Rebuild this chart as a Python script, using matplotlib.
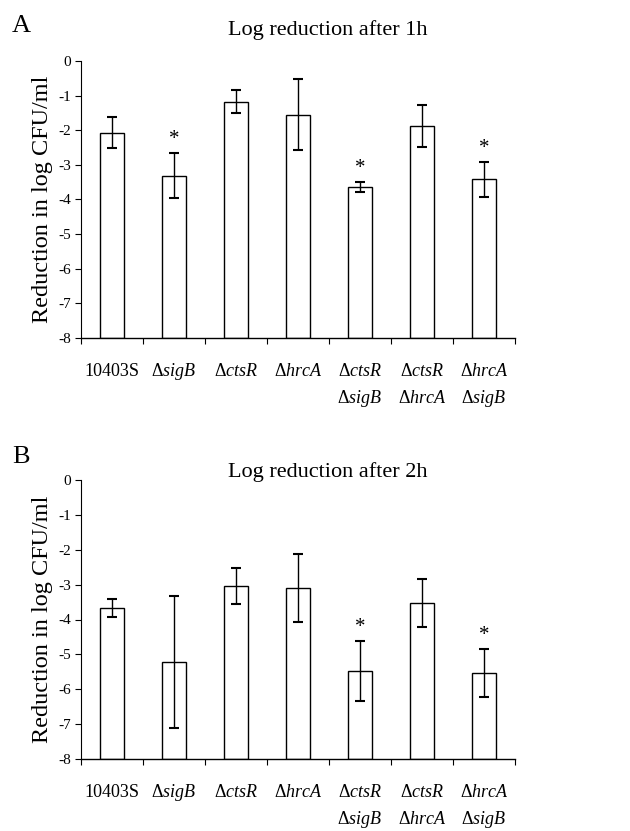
import numpy as np
import matplotlib.pyplot as plt

plt.rcParams['font.family'] = ['Liberation Serif', 'DejaVu Serif']
plt.rcParams['mathtext.fontset'] = 'custom'
plt.rcParams['mathtext.rm'] = 'Liberation Serif'
plt.rcParams['mathtext.it'] = 'Liberation Serif:italic'
plt.rcParams['axes.unicode_minus'] = False

# strains: first and second line of each tick label
line1 = ['10403S',
         r'$\Delta\mathit{sigB}$',
         r'$\Delta\mathit{ctsR}$',
         r'$\Delta\mathit{hrcA}$',
         r'$\Delta\mathit{ctsR}$',
         r'$\Delta\mathit{ctsR}$',
         r'$\Delta\mathit{hrcA}$']
line2 = ['', '', '', '',
         r'$\Delta\mathit{sigB}$',
         r'$\Delta\mathit{hrcA}$',
         r'$\Delta\mathit{sigB}$']

# log reduction after 1h
red_1h = [-2.07, -3.31, -1.17, -1.55, -3.64, -1.87, -3.42]
err_1h = [0.45, 0.65, 0.33, 1.03, 0.14, 0.60, 0.50]
sig_1h = [False, True, False, False, True, False, True]

# log reduction after 2h
red_2h = [-3.68, -5.22, -3.03, -3.10, -5.48, -3.52, -5.54]
err_2h = [0.26, 1.90, 0.52, 0.98, 0.86, 0.69, 0.68]
sig_2h = [False, False, False, False, True, False, True]

ymin = -8

fig = plt.figure(figsize=(6.3, 8.31), dpi=100)
W, H = 630, 831


def panel(top, bottom, vals, errs, sig, title, letter, title_y, letter_y):
    ax = fig.add_axes([81 / W, 1 - bottom / H, (515 - 81) / W, (bottom - top) / H])
    x = np.arange(len(vals))
    heights = np.array(vals) - ymin
    ax.bar(x, heights, bottom=ymin, width=0.4, color='white',
           edgecolor='black', linewidth=1.0, zorder=2)
    ax.errorbar(x, vals, yerr=errs, fmt='none', ecolor='black',
                elinewidth=1.0, capsize=3.4, capthick=1.5, zorder=3)
    for xi, v, e, s in zip(x, vals, errs, sig):
        if s:
            ax.text(xi, v + e + 0.12, '*', ha='center', va='bottom', fontsize=15)
    ax.set_xlim(-0.5, len(vals) - 0.5)
    ax.set_ylim(ymin, 0)
    ax.set_yticks(np.arange(ymin, 1, 1))
    ax.set_yticklabels([str(v) for v in range(ymin, 1)], fontsize=11)
    ax.set_xticks(x)
    ax.set_xticklabels([])
    ax.set_xticks(np.arange(-0.5, len(vals)), minor=True)
    ax.tick_params(axis='x', which='major', length=0)
    ax.tick_params(axis='x', which='minor', length=4, width=0.8)
    ax.tick_params(axis='y', length=4, width=0.8, pad=3)
    for xi, a, b in zip(x, line1, line2):
        ax.annotate(a, xy=(xi, 0), xycoords=('data', 'axes fraction'),
                    xytext=(0, -38), textcoords='offset pixels',
                    ha='center', va='baseline', fontsize=13)
        if b:
            ax.annotate(b, xy=(xi, 0), xycoords=('data', 'axes fraction'),
                        xytext=(0, -65), textcoords='offset pixels',
                        ha='center', va='baseline', fontsize=13)
    for side in ['top', 'right']:
        ax.spines[side].set_visible(False)
    ax.spines['left'].set_linewidth(0.8)
    ax.spines['bottom'].set_linewidth(1.0)
    ax.set_ylabel('Reduction in log CFU/ml', fontsize=17.5, labelpad=4)
    fig.text(328 / W, 1 - title_y / H, title, ha='center', va='baseline', fontsize=16)
    fig.text(12 / W, 1 - letter_y / H, letter, ha='left', va='baseline', fontsize=19)
    return ax


panel(61, 338, red_1h, err_1h, sig_1h, 'Log reduction after 1h', 'A', 35, 32)
panel(480, 759, red_2h, err_2h, sig_2h, 'Log reduction after 2h', 'B', 477, 463)

fig.savefig('out.png', dpi=100)
